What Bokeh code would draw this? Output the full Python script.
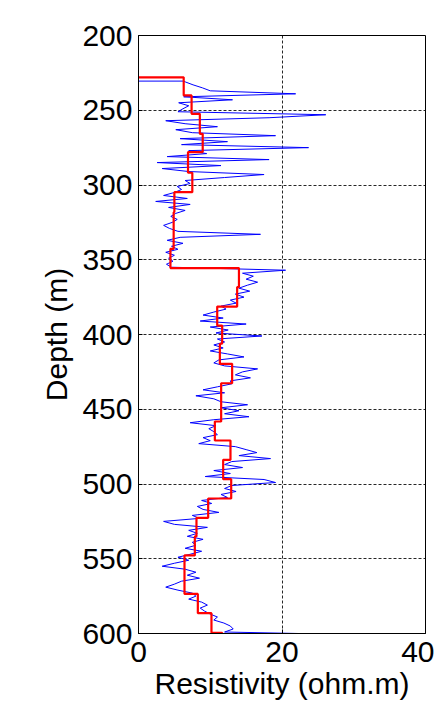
from bokeh.plotting import figure
from bokeh.models import Range1d, FixedTicker
from bokeh.embed import file_html
from bokeh.resources import INLINE

# ---- data ----
# measured resistivity log (blue), sampled every 2 m
log_depth = [230.5, 230.5] + list(range(231, 600, 2)) + [600]
log_res = [0.0, 6.3,
    6.5, 7.6, 8.9, 10.0, 21.9, 6.3, 13.1, 5.6, 7.0, 6.2,
    5.5, 26.1, 18.2, 3.8, 6.5, 11.0, 5.2, 7.5, 19.1, 5.8,
    12.4, 6.0, 23.7, 7.0, 9.5, 4.0, 18.2, 2.6, 11.5, 3.3,
    7.0, 17.5, 12.0, 6.5, 7.2, 5.4, 6.0, 5.0, 3.5, 6.8,
    2.4, 7.2, 4.2, 6.5, 5.2, 4.5, 5.4, 4.7, 3.5, 4.3,
    5.5, 17.0, 5.8, 4.0, 6.2, 4.6, 5.5, 3.8, 5.0, 4.2,
    4.8, 3.9, 4.6, 20.5, 14.5, 16.0, 15.0, 16.6, 15.2, 14.0,
    15.5, 13.5, 14.7, 12.8, 13.6, 11.5, 12.2, 10.5, 9.0, 11.8,
    8.6, 15.0, 10.0, 12.5, 10.8, 17.2, 11.0, 12.0, 10.5, 11.8,
    10.0, 12.4, 14.7, 11.2, 10.5, 12.0, 16.6, 14.5, 13.5, 15.6,
    12.8, 13.0, 11.0, 9.0, 12.0, 8.0, 10.5, 11.5, 15.2, 11.5,
    14.0, 12.0, 15.4, 10.5, 7.2, 10.8, 9.8, 10.5, 11.0, 9.0,
    10.0, 8.4, 13.5, 15.0, 16.5, 14.0, 18.4, 13.0, 12.0, 14.5,
    10.5, 12.8, 9.3, 17.5, 19.1, 13.0, 12.0, 13.6, 11.5, 12.4,
    8.8, 10.2, 8.2, 9.0, 11.2, 7.5, 8.5, 3.5, 5.0, 9.6,
    7.0, 8.2, 6.8, 9.0, 7.5, 8.0, 6.5, 8.8, 7.2, 5.5,
    7.0, 5.0, 3.3, 6.5, 8.0, 6.8, 8.5, 6.0, 5.0, 3.8,
    5.5, 7.5, 8.0, 7.0, 8.8, 9.6, 8.6, 9.2, 10.0, 11.0,
    10.5, 11.9, 12.8, 13.2, 12.0,
    22.3]

# layered model (red): top depth of each layer and its resistivity
layer_top = [228.0, 240.1, 252.4, 265.8, 278.0, 291.8, 304.8, 318.2, 342.7,
             355.6, 368.3, 381.3, 394.0, 406.2, 419.6, 432.6, 458.2, 470.9,
             483.8, 496.8, 509.7, 522.6, 535.1, 547.8, 573.5, 586.4, 599.5]
layer_res = [6.3, 7.4, 8.55, 8.95, 6.9, 7.5, 5.0, 4.9, 4.45,
             14.0, 13.75, 10.97, 11.66, 11.34, 13.05, 11.52, 10.64, 12.82,
             11.8, 12.92, 9.71, 8.08, 7.85, 6.41, 8.27, 10.17, 11.66]
model_bottom = 600.0

x_ticks = [0, 20, 40]
y_ticks = [200, 250, 300, 350, 400, 450, 500, 550, 600]

# step coordinates for the model
step_x = [0.0]
step_y = [layer_top[0]]
for i, r in enumerate(layer_res):
    bot = layer_top[i + 1] if i + 1 < len(layer_top) else model_bottom
    step_x += [r, r]
    step_y += [layer_top[i], bot]

FONT = "Liberation Sans"

p = figure(frame_width=287, frame_height=598,
           x_range=Range1d(0, 40), y_range=Range1d(600, 200),
           output_backend="svg", toolbar_location=None,
           min_border_left=138, min_border_right=9,
           min_border_top=35, min_border_bottom=74,
           background_fill_color="white", border_fill_color="white")

p.line(log_res, log_depth, line_color="#0000ff", line_width=1)
p.line(step_x, step_y, line_color="#ff0000", line_width=2.2)

p.outline_line_color = "black"
p.outline_line_width = 1

p.xaxis.ticker = FixedTicker(ticks=x_ticks)
p.yaxis.ticker = FixedTicker(ticks=y_ticks)
p.xaxis.axis_label = "Resistivity (ohm.m)"
p.yaxis.axis_label = "Depth (m)"

for ax in (p.xaxis, p.yaxis):
    ax.axis_label_text_font = FONT
    ax.axis_label_text_font_size = "30px"
    ax.axis_label_text_font_style = "normal"
    ax.axis_label_text_color = "black"
    ax.major_label_text_font = FONT
    ax.major_label_text_font_size = "30px"
    ax.major_label_text_color = "black"
    ax.major_tick_in = 4
    ax.major_tick_out = 0
    ax.minor_tick_line_color = None
    ax.axis_line_color = "black"
    ax.major_tick_line_color = "black"

p.xaxis.major_label_standoff = 8
p.xaxis.axis_label_standoff = 2
p.yaxis.major_label_standoff = 6
p.yaxis.axis_label_standoff = 6

for g in (p.xgrid, p.ygrid):
    g.grid_line_color = "black"
    g.grid_line_dash = "3 2"
    g.grid_line_width = 1
    g.grid_line_alpha = 0.85
p.xgrid.ticker = FixedTicker(ticks=x_ticks)
p.ygrid.ticker = FixedTicker(ticks=y_ticks)

open("out.html", "w").write(file_html(p, INLINE))
